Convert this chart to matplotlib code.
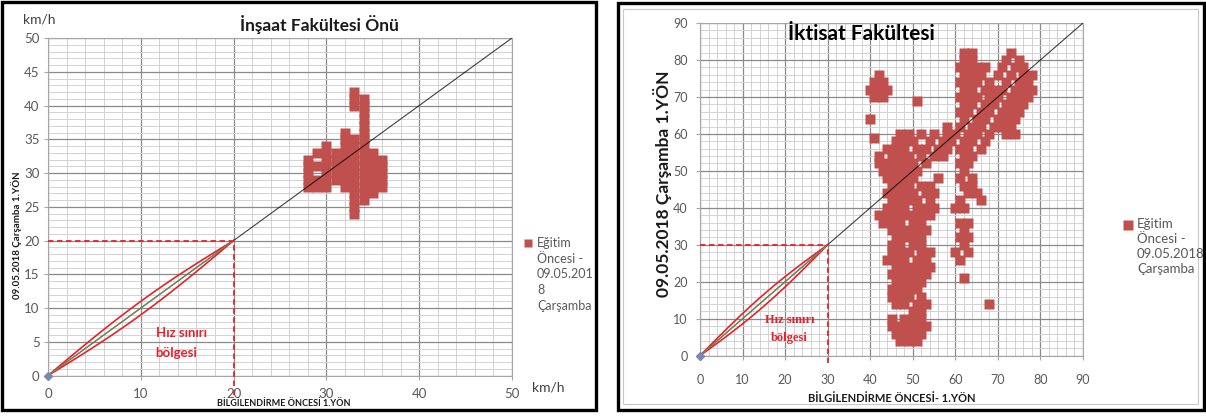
import numpy as np
import matplotlib.pyplot as plt
from matplotlib.patches import Rectangle
from matplotlib.lines import Line2D
from matplotlib.ticker import MultipleLocator

plt.rcParams['font.family'] = ['Lato', 'DejaVu Sans']

W, H = 1206, 416
RED = '#c0504d'
LINE_RED = '#e8202a'
GREY_TXT = '#595959'

# Inşaat Fakültesi Önü: speed before (x) -> list of speeds on 09.05.2018 (y)
insaat_columns = {
    28: [28, 29, 30, 31, 32],
    29: [28, 29, 31, 33],
    30: [28, 29, 30, 31, 32, 33, 34],
    31: [29, 30, 31, 32, 33],
    32: [28, 29, 30, 31, 32, 33, 34, 35, 36],
    33: [24, 25, 26, 27, 28, 29, 30, 31, 32, 33, 34, 35, 40, 41, 42],
    34: [26, 27, 28, 29, 30, 31, 32, 33, 34, 35, 36, 37, 38, 39, 40, 41],
    35: [27, 28, 29, 30, 31, 32, 33],
    36: [28, 29, 30, 31, 32],
}

# İktisat Fakültesi: speed on 09.05.2018 (y) -> list of speeds before (x)
iktisat_rows = {
    4: [47, 49, 51],
    6: [46, 48, 50, 52],
    8: [45, 47, 49, 51, 53],
    10: [45, 48, 50, 52],
    12: [50, 52],
    14: [46, 48, 51, 53, 68],
    16: [45, 47, 49, 52],
    18: [45, 47, 49, 51],
    20: [46, 48, 50, 52],
    21: [62],
    22: [45, 47, 49, 51, 53],
    24: [46, 48, 50, 52, 54],
    26: [44, 46, 48, 51, 53, 61],
    28: [45, 47, 49, 52, 54, 60, 63],
    30: [45, 47, 50, 52, 62],
    32: [46, 48, 50, 52, 61, 63],
    34: [45, 47, 49, 51, 53, 62],
    36: [43, 45, 47, 50, 52, 61, 63],
    38: [42, 44, 46, 48, 50, 52, 54],
    40: [44, 46, 48, 51, 53, 55, 60, 62],
    42: [45, 47, 49, 51, 54, 61, 66],
    44: [44, 46, 48, 50, 53, 55, 63, 65],
    46: [45, 47, 49, 52, 54, 62, 64],
    48: [44, 46, 48, 50, 56, 61, 64],
    50: [43, 45, 47, 49, 51, 62],
    52: [42, 44, 46, 48, 50, 53, 61, 63],
    54: [42, 45, 47, 49, 52, 55, 57, 62, 64],
    56: [44, 46, 48, 51, 53, 56, 58, 61, 63, 66],
    58: [46, 48, 50, 54, 57, 59, 62, 64, 67],
    59: [41],
    60: [47, 49, 52, 55, 58, 60, 63, 65, 68, 72, 74],
    62: [58, 61, 64, 66, 69, 71, 73],
    64: [40, 62, 65, 67, 70, 72, 74],
    66: [61, 63, 66, 68, 71, 73, 75],
    68: [62, 64, 67, 69, 72, 74, 76],
    69: [51],
    70: [41, 43, 61, 63, 65, 68, 70, 73, 75, 77],
    72: [40, 42, 44, 62, 64, 67, 69, 71, 74, 76, 78],
    74: [41, 43, 61, 63, 65, 68, 72, 75, 77],
    76: [42, 62, 64, 66, 70, 73, 76, 78],
    78: [61, 63, 65, 67, 71, 74, 76],
    80: [62, 64, 72, 75],
    82: [62, 64, 73],
}

insaat_x = [x for x, ys in insaat_columns.items() for y in ys]
insaat_y = [y for x, ys in insaat_columns.items() for y in ys]
iktisat_x = [x for y, xs in iktisat_rows.items() for x in xs]
iktisat_y = [y for y, xs in iktisat_rows.items() for x in xs]

legend_insaat = "Eğitim\nÖncesi -\n09.05.201\n8\nÇarşamba"
legend_iktisat = "Eğitim\nÖncesi -\n09.05.2018\nÇarşamba"


def fx(px):
    return px / W


def fy(py):
    return 1 - py / H


def draw_panel(ax, px, py, top, xmaj, ymaj, xmin, ymin, limit, lens_w, drop, ms, fs):
    ax.set_xlim(0, top)
    ax.set_ylim(0, top)
    ax.xaxis.set_major_locator(MultipleLocator(xmaj))
    ax.yaxis.set_major_locator(MultipleLocator(ymaj))
    ax.xaxis.set_minor_locator(MultipleLocator(xmin))
    ax.yaxis.set_minor_locator(MultipleLocator(ymin))
    ax.grid(which='minor', color='#d2d2d2', lw=0.7)
    ax.grid(which='major', color='#8a8a8a', lw=0.9)
    ax.set_axisbelow(True)
    for s in ax.spines.values():
        s.set_color('#a6a6a6')
        s.set_linewidth(0.8)
    ax.tick_params(which='minor', length=0)
    ax.tick_params(which='major', length=3, color='#a6a6a6',
                   labelcolor=GREY_TXT, labelsize=fs)

    ax.plot(px, py, 's', ms=ms, color=RED, mec='none', zorder=2)
    ax.plot([0, top], [0, top], color='black', lw=0.8, alpha=0.75, zorder=3)

    # speed limit lens and guide lines
    t = np.linspace(0, limit, 80)
    off = lens_w * np.sin(np.pi * t / limit)
    ax.plot(t, t + off, color=LINE_RED, lw=1.2, zorder=4)
    ax.plot(t, t - off, color=LINE_RED, lw=1.2, zorder=4)
    ax.plot([0, limit], [0, limit], color='#6b8f5a', lw=0.9, zorder=4)
    ax.plot([0, limit], [limit, limit], color=LINE_RED, lw=1.3,
            dashes=(3, 2), zorder=4)
    ax.plot([limit, limit], [drop, limit], color=LINE_RED, lw=1.3,
            dashes=(3, 2), zorder=4, clip_on=False)
    ax.plot([0], [0], 'D', ms=4, color='#7a86b8', zorder=5, clip_on=False)


fig = plt.figure(figsize=(W / 100, H / 100), dpi=100)

# left panel
ax1 = fig.add_axes([fx(48), fy(375.6), fx(464), 337.6 / H])
draw_panel(ax1, insaat_x, insaat_y, 50, 10, 5, 2, 1, 20, 1.0, -2.8, 6.8, 9.5)
ax1.tick_params(axis='x', pad=6)
ax1.tick_params(axis='y', pad=3)
ax1.text(11.6, 6.3, "Hız sınırı", color=LINE_RED, fontsize=9.5,
         fontweight='bold', va='center')
ax1.text(11.6, 3.4, "bölgesi", color=LINE_RED, fontsize=9.5,
         fontweight='bold', va='center')
fig.text(fx(319), fy(24), "İnşaat Fakültesi Önü", fontsize=12.5,
         fontweight='bold', ha='center', va='center', color='#1a1a1a')
fig.text(fx(39), fy(20), "km/h", fontsize=10, ha='center', va='center',
         color='#404040')
fig.text(fx(548), fy(387), "km/h", fontsize=10, ha='center', va='center',
         color='#404040')
fig.text(fx(284), fy(404), "BİLGİLENDİRME ÖNCESİ 1.YÖN", fontsize=6.5,
         fontweight='bold', ha='center', va='center', color='#1a1a1a')
fig.text(fx(17), fy(235), "09.05.2018 Çarşamba 1.YÖN", fontsize=7,
         fontweight='bold', ha='center', va='center', rotation=90,
         color='#1a1a1a')
fig.add_artist(Line2D([fx(528)], [fy(243)], marker='s', ms=6, color=RED,
                      mec='none', transform=fig.transFigure))
fig.text(fx(537), fy(243) + 0.015, legend_insaat, fontsize=9, ha='left',
         va='top', color=GREY_TXT, linespacing=1.38)

# right panel
ax2 = fig.add_axes([fx(700), fy(355.7), fx(383), 332.7 / H])
draw_panel(ax2, iktisat_x, iktisat_y, 90, 10, 10, 2, 2, 30, 1.6, -2.0, 6.6, 9)
ax2.tick_params(axis='x', pad=10)
ax2.tick_params(axis='y', pad=6)
ax2.text(21, 9.6, "Hız sınırı", color=LINE_RED, fontsize=9,
         fontweight='bold', ha='center', va='center',
         family=['Liberation Serif', 'DejaVu Serif'])
ax2.text(21, 4.9, "bölgesi", color=LINE_RED, fontsize=9,
         fontweight='bold', ha='center', va='center',
         family=['Liberation Serif', 'DejaVu Serif'])
ax2.text(20.6, 87, "İktisat Fakültesi", fontsize=15, fontweight='bold',
         ha='left', va='center', color='black', zorder=6)
fig.text(fx(892), fy(398), "BİLGİLENDİRME ÖNCESİ- 1.YÖN", fontsize=8,
         fontweight='bold', ha='center', va='center', color='#1a1a1a')
fig.text(fx(662), fy(184), "09.05.2018 Çarşamba 1.YÖN", fontsize=12.5,
         fontweight='bold', ha='center', va='center', rotation=90,
         color='#1a1a1a')
fig.add_artist(Line2D([fx(1128)], [fy(225)], marker='s', ms=6.5, color=RED,
                      mec='none', transform=fig.transFigure))
fig.text(fx(1137), fy(225) + 0.016, legend_iktisat, fontsize=9.5, ha='left',
         va='top', color=GREY_TXT, linespacing=1.3)

# panel frames
fig.add_artist(Rectangle((fx(2), fy(410)), fx(594), 408 / H,
                         transform=fig.transFigure, fill=False, lw=2.4,
                         ec='black'))
fig.add_artist(Rectangle((fx(618), fy(410)), fx(586), 407 / H,
                         transform=fig.transFigure, fill=False, lw=2.4,
                         ec='black'))
fig.add_artist(Rectangle((fx(623), fy(404)), fx(575), 395 / H,
                         transform=fig.transFigure, fill=False, lw=0.8,
                         ec='#c8c8c8'))

fig.savefig('out.png', dpi=100)
